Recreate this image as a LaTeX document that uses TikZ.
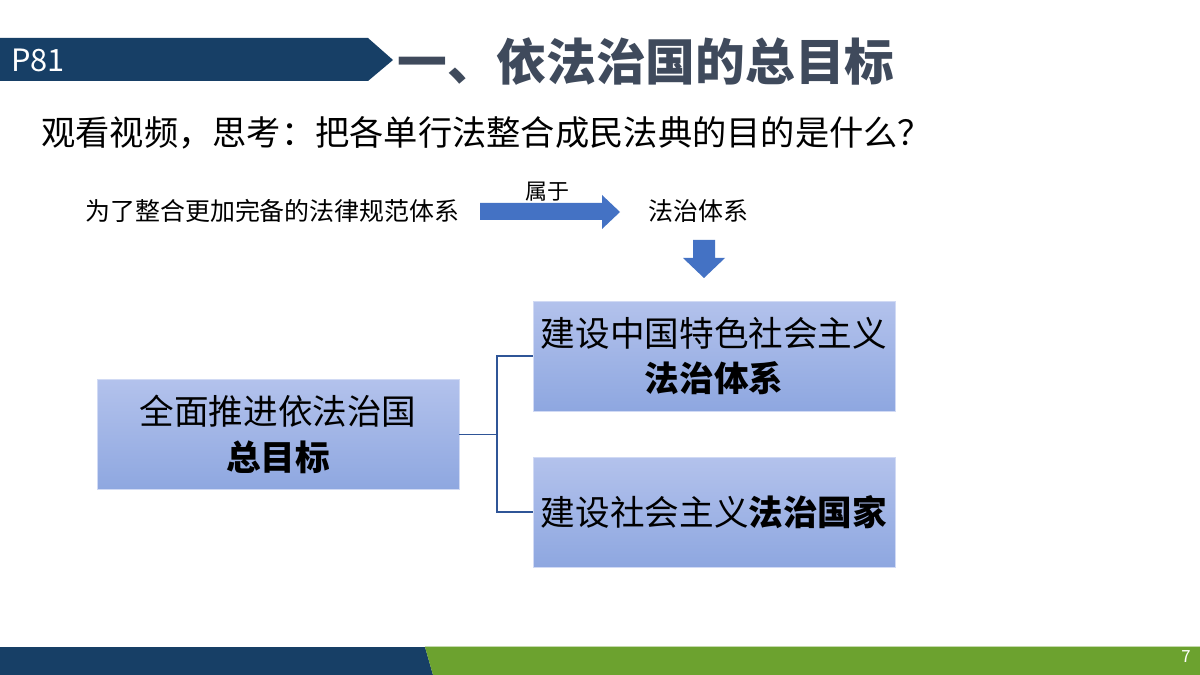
\documentclass[tikz,border=0pt]{standalone}
\usepackage{fontspec}
\setmainfont{Noto Sans CJK SC}
\usetikzlibrary{calc}
\definecolor{navy}{HTML}{173F66}
\definecolor{leaf}{HTML}{6CA22F}
\definecolor{titlegray}{HTML}{3F4A5C}
\definecolor{arrblue}{HTML}{4472C4}
\definecolor{linkblue}{HTML}{2F5597}
\definecolor{boxtop}{HTML}{B3C2EC}
\definecolor{boxbot}{HTML}{8EA7E0}
\tikzset{
  boxnode/.style={minimum width=7.24cm, minimum height=2.2cm, inner sep=0pt,
    top color=boxtop, bottom color=boxbot, draw=boxtop!60!white, line width=0.4pt,
    align=center, font=\fontsize{19.7pt}{26pt}\selectfont, text=black},
  link/.style={draw=linkblue, line width=0.8pt},
  fatarrow/.style={fill=arrblue, draw=none},
  plain/.style={inner sep=0pt, anchor=west, text=black}
}
\begin{document}
\begin{tikzpicture}[x=0.02cm,y=-0.02cm]
\useasboundingbox (0,0) rectangle (1200,675);
\fill[white] (0,0) rectangle (1200,675);
% banner
\fill[navy] (0,38) -- (368,38) -- (393,60) -- (368,81) -- (0,81) -- cycle;
\node[inner sep=0pt, anchor=west, text=white, font=\fontsize{17.5pt}{20pt}\selectfont] (p81) at (11,60) {P81};
\node[inner sep=0pt, anchor=west, text=titlegray, font=\fontsize{28.3pt}{32pt}\selectfont\bfseries] (title) at (397,62) {一、依法治国的总目标};
\node[plain, font=\fontsize{19.5pt}{24pt}\selectfont] (q) at (41,133) {观看视频，思考：把各单行法整合成民法典的目的是什么？};
% top row
\node[plain, font=\fontsize{14.2pt}{18pt}\selectfont] (aim) at (85,211) {为了整合更加完备的法律规范体系};
\node[plain, font=\fontsize{14.2pt}{18pt}\selectfont] (sys) at (648,211) {法治体系};
\node[inner sep=0pt, font=\fontsize{12.5pt}{15pt}\selectfont] (belong) at (547,192) {属于};
\fill[fatarrow] (480,203) -- (602,203) -- (602,195) -- (620,212) -- (602,229) -- (602,220) -- (480,220) -- cycle;
\fill[fatarrow] (693,240) -- (715,240) -- (715,258) -- (725,258) -- (704,278) -- (683,258) -- (693,258) -- cycle;
% boxes
\node[boxnode] (goal) at (278,434.5) {全面推进依法治国\\\textbf{总目标}};
\node[boxnode] (b1) at (714,356) {建设中国特色社会主义\\\textbf{法治体系}};
\node[boxnode] (b2) at (714,512) {建设社会主义\textbf{法治国家}};
\coordinate (fork) at (497,434.5);
\draw[link] (goal.east) -- (fork);
\draw[link] (fork) |- (b1.west);
\draw[link] (fork) |- (b2.west);
% footer
\fill[navy] (0,647) -- (425,647) -- (433,675) -- (0,675) -- cycle;
\fill[leaf] (425,647) -- (1200,647) -- (1200,675) -- (433,675) -- cycle;
\draw[leaf!40!white, line width=0.5pt] (425,646.5) -- (1200,646.5);
\node[inner sep=0pt, text=white, font=\fontsize{9.5pt}{11pt}\selectfont] (pg) at (1186,657) {7};
\end{tikzpicture}
\end{document}
